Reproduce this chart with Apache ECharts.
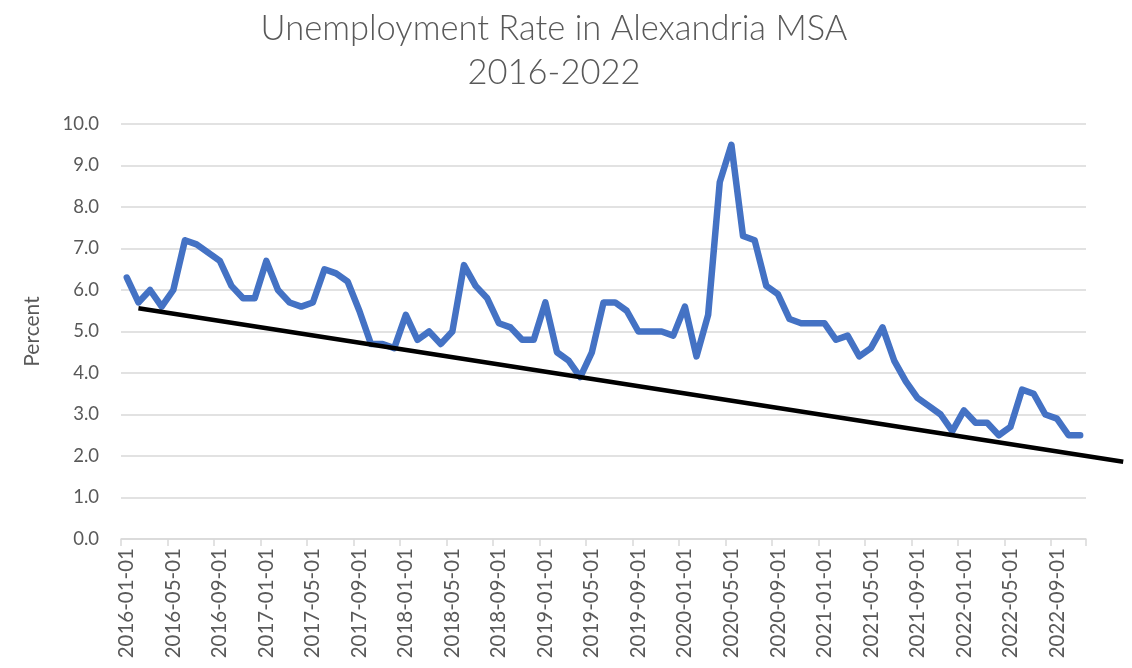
<!DOCTYPE html>
<html>
<head>
<meta charset="utf-8">
<script src="https://cdn.jsdelivr.net/npm/echarts@6/dist/echarts.min.js"></script>
<style>
html,body{margin:0;padding:0;background:#fff;}
#c{width:1132px;height:668px;}
</style>
</head>
<body>
<div id="c"></div>
<script>
// ---- data ----
const titleLines = ['Unemployment Rate in Alexandria MSA', '2016-2022'];
const yAxisName = 'Percent';
const startYear = 2016, monthCount = 83;
const months = [];
for (let i = 0; i < monthCount; i++) {
  const y = startYear + Math.floor(i / 12), m = (i % 12) + 1;
  months.push(y + '-' + String(m).padStart(2, '0') + '-01');
}
const rate = [
  6.3, 5.7, 6.0, 5.6, 6.0, 7.2, 7.1, 6.9, 6.7, 6.1, 5.8, 5.8,
  6.7, 6.0, 5.7, 5.6, 5.7, 6.5, 6.4, 6.2, 5.5, 4.7, 4.7, 4.6,
  5.4, 4.8, 5.0, 4.7, 5.0, 6.6, 6.1, 5.8, 5.2, 5.1, 4.8, 4.8,
  5.7, 4.5, 4.3, 3.9, 4.5, 5.7, 5.7, 5.5, 5.0, 5.0, 5.0, 4.9,
  5.6, 4.4, 5.4, 8.6, 9.5, 7.3, 7.2, 6.1, 5.9, 5.3, 5.2, 5.2,
  5.2, 4.8, 4.9, 4.4, 4.6, 5.1, 4.3, 3.8, 3.4, 3.2, 3.0, 2.6,
  3.1, 2.8, 2.8, 2.5, 2.7, 3.6, 3.5, 3.0, 2.9, 2.5, 2.5
];
// hand-drawn support line: [month index, percent]
const trendStart = [1, 5.56];
const trendEnd = [85.7, 1.86];
const yTicks = [0, 10, 1]; // min, max, step

// ---- layout ----
const W = 1132, gridLeft = 121, gridRight = 46, gridTop = 124, gridBottom = 129;
const perCat = (W - gridLeft - gridRight) / monthCount;
const g2Width = W - gridLeft;
const g2Span = g2Width / perCat;

const textColor = '#595959';
const font = 'Lato, "Open Sans", sans-serif';

const chart = echarts.init(document.getElementById('c'), null, {renderer: 'canvas'});
chart.setOption({
  animation: false,
  backgroundColor: '#fff',
  title: {
    text: titleLines.join('\n'),
    left: 549, top: 2, textAlign: 'center',
    textStyle: {color: textColor, fontFamily: font, fontWeight: 300, fontSize: 34.5, lineHeight: 44}
  },
  grid: [
    {left: gridLeft, right: gridRight, top: gridTop, bottom: gridBottom, containLabel: false},
    {left: gridLeft, right: 0, top: gridTop, bottom: gridBottom, containLabel: false}
  ],
  xAxis: [{
    type: 'category', gridIndex: 0, data: months, boundaryGap: true,
    axisLine: {lineStyle: {color: '#d9d9d9', width: 1.5}},
    axisTick: {show: true, interval: 3, length: 7, lineStyle: {color: '#d9d9d9', width: 1.5}},
    axisLabel: {interval: 3, rotate: 90, color: textColor, fontFamily: font, fontSize: 20.5, margin: 9}
  }, {
    type: 'value', gridIndex: 1, min: -0.5, max: -0.5 + g2Span, show: false
  }],
  yAxis: [{
    type: 'value', gridIndex: 0, min: yTicks[0], max: yTicks[1], interval: yTicks[2],
    name: yAxisName, nameLocation: 'middle', nameGap: 78, nameRotate: 90,
    nameTextStyle: {color: textColor, fontFamily: font, fontSize: 21},
    axisLine: {show: false}, axisTick: {show: false},
    axisLabel: {color: textColor, fontFamily: font, fontSize: 18.5, margin: 22,
      formatter: v => v.toFixed(1)},
    splitLine: {lineStyle: {color: '#d9d9d9', width: 1.5}}
  }, {
    type: 'value', gridIndex: 1, min: yTicks[0], max: yTicks[1], show: false
  }],
  series: [{
    type: 'line', xAxisIndex: 0, yAxisIndex: 0, data: rate,
    symbol: 'none', lineStyle: {color: '#4472C4', width: 6.5, cap: 'round', join: 'round'},
    z: 3
  }, {
    type: 'line', xAxisIndex: 1, yAxisIndex: 1, data: [trendStart, trendEnd],
    symbol: 'none', lineStyle: {color: '#000', width: 4.5}, z: 4, clip: false
  }]
});
</script>
</body>
</html>
